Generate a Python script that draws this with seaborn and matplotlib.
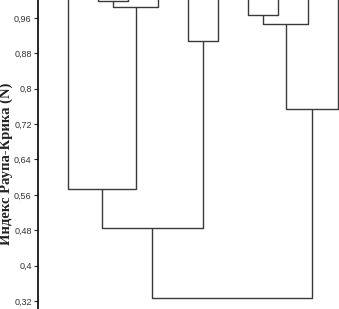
import matplotlib
matplotlib.use("Agg")
import matplotlib.pyplot as plt
import seaborn as sns

# linkage: cluster ids 0..9 are leaves, 10+ are merges (in order)
merge_left = [1, 10, 0, 4, 12, 6, 15, 16, 14]
merge_right = [2, 3, 11, 5, 13, 7, 8, 9, 17]
merge_height = [0.9995, 0.985, 0.574, 0.907, 0.4845, 0.967, 0.946, 0.754, 0.327]
n_leaves = 10
leaf_height = 1.05

y_ticks = [0.32, 0.40, 0.48, 0.56, 0.64, 0.72, 0.80, 0.88, 0.96]
y_ticklabels = ["0,32", "0,4", "0,48", "0,56", "0,64", "0,72", "0,8", "0,88", "0,96"]
y_label = "Индекс Раупа-Крика (N)"

sns.set_style("ticks")

fig = plt.figure(figsize=(3.39, 3.09), dpi=100)
ax = fig.add_axes([38 / 339, 0, 1 - 38 / 339, 1])

# node positions: leaves at 0..n-1, merges at mid of children
pos_x = {i: float(i) for i in range(n_leaves)}
pos_y = {i: leaf_height for i in range(n_leaves)}
line_kw = dict(color="#3a3a3a", lw=1.0, solid_capstyle="butt")
for k, (a, b, h) in enumerate(zip(merge_left, merge_right, merge_height)):
    node = n_leaves + k
    xa, xb = pos_x[a], pos_x[b]
    ax.plot([xa, xa, xb, xb], [pos_y[a], h, h, pos_y[b]], **line_kw)
    pos_x[node] = (xa + xb) / 2
    pos_y[node] = h

ax.set_xlim(-1, -1 + 301 / 30)
ax.set_ylim(0.3019, 1.0007)
ax.set_yticks(y_ticks)
ax.set_yticklabels(y_ticklabels, fontfamily="Liberation Sans", color="#333333")
ax.tick_params(axis="y", direction="out", length=3, width=0.8, labelsize=6.5, pad=1.5)
ax.set_xticks([])
sns.despine(ax=ax, top=True, right=True, bottom=True)
ax.spines["left"].set_linewidth(1.2)
ax.spines["left"].set_color("black")

fig.text(6 / 339, 1 - 164 / 309, y_label, rotation=90, ha="center", va="center",
         fontfamily="Liberation Serif", fontweight="bold", fontsize=10.5, color="#222222")

fig.savefig("out.png", dpi=100)
